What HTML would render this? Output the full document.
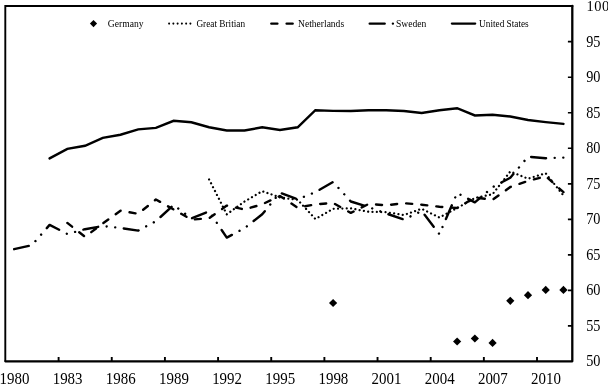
<!DOCTYPE html>
<html><head><meta charset="utf-8"><title>Chart</title>
<style>html,body{margin:0;padding:0;background:#fff}svg{display:block}text{font-family:"Liberation Serif",serif;fill:#000}</style></head>
<body>
<svg width="608" height="385" viewBox="0 0 608 385">
<rect width="608" height="385" fill="#fff"/>
<g stroke="#000" stroke-width="1.9" fill="none">
<path d="M5.3 361.1V5.95H573.3"/><path d="M572.3 5.95V361.35H5.3" stroke-width="2.3" stroke-linejoin="round" stroke-linecap="round"/>
<path d="M58.61 361.1v-4.1M111.76 361.1v-4.1M164.92 361.1v-4.1M218.08 361.1v-4.1M271.23 361.1v-4.1M324.39 361.1v-4.1M377.54 361.1v-4.1M430.70 361.1v-4.1M483.86 361.1v-4.1M537.01 361.1v-4.1" stroke-width="1.9"/>
<path d="M572.3 325.84h-4.4M572.3 290.32h-4.4M572.3 254.81h-4.4M572.3 219.29h-4.4M572.3 183.78h-4.4M572.3 148.26h-4.4M572.3 112.75h-4.4M572.3 77.23h-4.4M572.3 41.71h-4.4" stroke-width="1.7"/>
</g>
<g fill="none" stroke="#000" stroke-width="2.4" stroke-linejoin="round" stroke-linecap="round">
<polyline points="49.60,157.9 67.32,148.4 85.03,145.3 102.75,137.4 120.47,134.2 138.19,128.9 155.91,127.4 173.63,120.3 191.35,121.8 209.07,126.8 226.78,130.0 244.50,130.0 262.22,126.8 279.94,129.5 297.66,126.8 315.38,109.7 333.10,110.4 350.82,110.5 368.53,109.8 386.25,109.7 403.97,110.5 421.69,112.4 439.41,109.7 457.13,107.7 474.85,115.0 492.57,114.2 510.28,116.0 528.00,119.5 545.72,121.6 563.44,123.4" stroke-width="2.45" stroke-linejoin="miter" transform="translate(0 0.5)"/>
<polyline points="209.07,179.4 226.78,214.3 244.50,201.5 262.22,191.2 279.94,197.4 297.66,199.8 315.38,219.0 333.10,208.8 350.82,208.3 368.53,211.8 386.25,212.2 403.97,215.0 421.69,208.8 439.41,217.5 457.13,208.0 474.85,198.0 492.57,194.2 510.28,171.5 528.00,178.7 545.72,173.3 563.44,195.5" stroke-dasharray="0.01 4.34" stroke-width="2.25"/>
<polyline points="67.32,222.9 85.03,236.8 102.75,223.5 120.47,210.7 138.19,213.8 155.91,199.5 173.63,209.5 191.35,219.6 209.07,218.3 226.78,205.6 244.50,209.5 262.22,204.3 279.94,196.0 297.66,207.7 315.38,204.3 333.10,203.0 350.82,212.9 368.53,204.0 386.25,205.3 403.97,203.2 421.69,204.7 439.41,206.8 457.13,208.0 474.85,197.5 492.57,199.8 510.28,187.0 528.00,181.0 545.72,176.2 563.44,192.2" stroke-dasharray="6.05 9.1"/>
<polyline points="14.16,249.2 31.88,245.2 49.60,224.9 67.32,234.0 85.03,229.2 102.75,226.0 120.47,228.0 138.19,230.6 155.91,221.2 173.63,205.0 191.35,218.5 209.07,211.3 226.78,237.6 244.50,228.2 262.22,214.3 279.94,192.7 297.66,199.3 315.38,192.2 333.10,182.0 350.82,201.5 368.53,207.1 386.25,213.5 403.97,219.5 421.69,211.0 439.41,234.2 457.13,193.0 474.85,202.4 492.57,187.2 510.28,177.8 528.00,156.7 545.72,158.2 563.44,157.6" stroke-dasharray="15 8.61 0.01 8.61 0.01 8.61"/>
</g>
<g fill="#000">
<path d="M333.10 298.90L337.20 303.00L333.10 307.10L329.00 303.00Z"/>
<path d="M457.13 337.40L461.23 341.50L457.13 345.60L453.03 341.50Z"/>
<path d="M474.85 334.40L478.95 338.50L474.85 342.60L470.75 338.50Z"/>
<path d="M492.57 338.80L496.67 342.90L492.57 347.00L488.47 342.90Z"/>
<path d="M510.28 296.70L514.38 300.80L510.28 304.90L506.18 300.80Z"/>
<path d="M528.00 291.10L532.10 295.20L528.00 299.30L523.90 295.20Z"/>
<path d="M545.72 285.80L549.82 289.90L545.72 294.00L541.62 289.90Z"/>
<path d="M563.44 285.80L567.54 289.90L563.44 294.00L559.34 289.90Z"/>
</g>
<g fill="#000"><path d="M93.50 20.00L97.10 23.60L93.50 27.20L89.90 23.60Z"/></g>
<g fill="none" stroke="#000" stroke-width="2.4" stroke-linecap="round">
<path d="M169.1 23.6H191" stroke-dasharray="0.01 4.25" stroke-width="2.05"/>
<path d="M271.3 23.6H292.7" stroke-dasharray="6.1 9.2"/>
<path d="M369.7 23.6H393" stroke-dasharray="15 8.2 0.01 8.7"/>
<path d="M451.9 23.6H475.2" stroke-width="2.25"/>
</g>
<g font-size="9.5">
<text x="107.8" y="26.9" textLength="35.7" lengthAdjust="spacingAndGlyphs">Germany</text>
<text x="196.4" y="26.9" textLength="48.7" lengthAdjust="spacingAndGlyphs">Great Britian</text>
<text x="298.1" y="26.9" textLength="46" lengthAdjust="spacingAndGlyphs">Netherlands</text>
<text x="396" y="26.9" textLength="30.3" lengthAdjust="spacingAndGlyphs">Sweden</text>
<text x="479.1" y="26.9" textLength="49.6" lengthAdjust="spacingAndGlyphs">United States</text>
</g>
<g font-size="16.6" text-anchor="middle">
<text transform="translate(14.46 384.3) scale(0.9 1)">1980</text>
<text transform="translate(67.62 384.3) scale(0.9 1)">1983</text>
<text transform="translate(120.77 384.3) scale(0.9 1)">1986</text>
<text transform="translate(173.93 384.3) scale(0.9 1)">1989</text>
<text transform="translate(227.08 384.3) scale(0.9 1)">1992</text>
<text transform="translate(280.24 384.3) scale(0.9 1)">1995</text>
<text transform="translate(333.40 384.3) scale(0.9 1)">1998</text>
<text transform="translate(386.55 384.3) scale(0.9 1)">2001</text>
<text transform="translate(439.71 384.3) scale(0.9 1)">2004</text>
<text transform="translate(492.87 384.3) scale(0.9 1)">2007</text>
<text transform="translate(546.02 384.3) scale(0.9 1)">2010</text>
</g>
<g font-size="16.8">
<text transform="translate(586.2 366.45) scale(0.85 1)">50</text>
<text transform="translate(586.2 330.94) scale(0.85 1)">55</text>
<text transform="translate(586.2 295.42) scale(0.85 1)">60</text>
<text transform="translate(586.2 259.91) scale(0.85 1)">65</text>
<text transform="translate(586.2 224.39) scale(0.85 1)">70</text>
<text transform="translate(586.2 188.88) scale(0.85 1)">75</text>
<text transform="translate(586.2 153.36) scale(0.85 1)">80</text>
<text transform="translate(586.2 117.84) scale(0.85 1)">85</text>
<text transform="translate(586.2 82.33) scale(0.85 1)">90</text>
<text transform="translate(586.2 46.81) scale(0.85 1)">95</text>
<text font-size="14.4" letter-spacing="0.45" x="586.6" y="10.85">100</text>
</g>
</svg></body></html>
